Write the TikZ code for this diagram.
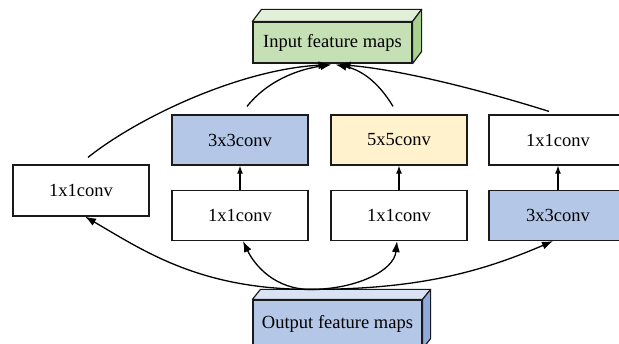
\documentclass[tikz,border=0pt]{standalone}
\usepackage{fontspec}
\newfontfamily\labelfont{LiberationSerif}[Extension=.ttf, UprightFont=*-Regular]
\usetikzlibrary{arrows.meta,calc}

\definecolor{convblue}{HTML}{B4C7E7}
\definecolor{convyellow}{HTML}{FFF2CC}
\definecolor{ingreen}{HTML}{C5E0B4}
\definecolor{ingreentop}{HTML}{E2F0D9}
\definecolor{ingreenside}{HTML}{A9D18E}
\definecolor{outblue}{HTML}{B4C7E7}
\definecolor{outbluetop}{HTML}{DAE3F3}
\definecolor{outblueside}{HTML}{8FAADC}
\definecolor{edge}{HTML}{1A1A1A}

\begin{document}
\begin{tikzpicture}[x=1pt,y=-1pt,
  box/.style={draw=edge, line width=1.2pt, minimum width=136pt, minimum height=50pt,
    inner sep=0pt, font=\labelfont\fontsize{18.5}{20}\selectfont},
  cube/.style={draw=edge, line width=1.2pt, inner sep=0pt, font=\labelfont\fontsize{18.5}{20}\selectfont},
  cubeface/.style={draw=edge, line width=1.2pt, line join=round},
  wire/.style={draw=black, line width=1.3pt},
  link/.style={wire, -{Latex[length=11pt,width=8pt]}},
  shortlink/.style={wire, -{Latex[length=8pt,width=6pt]}}]
\useasboundingbox (0,0) rectangle (619,344);

% convolution boxes
\node[box, minimum height=51pt] (b1) at (81,190.5) {1x1conv};
\node[box, fill=convblue]   (t1) at (240,140) {3x3conv};
\node[box]                  (m1) at (240,215.5) {1x1conv};
\node[box, fill=convyellow] (t2) at (399,140) {5x5conv};
\node[box]                  (m2) at (399,215.5) {1x1conv};
\node[box, minimum width=138pt] (t3) at (558,140) {1x1conv};
\node[box, minimum width=138pt, fill=convblue] (r2) at (558,215.5) {3x3conv};

% input block (3-D)
\node[cube, fill=ingreen, minimum width=159pt, minimum height=41pt] (in) at (332.5,42.5) {Input feature maps};
\draw[cubeface, fill=ingreentop] (in.north west) -- ++(9,-12) -- ($(in.north east)+(9,-12)$) -- (in.north east) -- cycle;
\draw[cubeface, fill=ingreenside] (in.north east) -- ++(9,-12) -- ($(in.south east)+(9,-12)$) -- (in.south east) -- cycle;

% output block (3-D)
\node[cube, fill=outblue, minimum width=169pt, minimum height=48pt] (out) at (337.5,324) {Output feature maps};
\draw[cubeface, fill=outbluetop] (out.north west) -- ++(8,-10) -- ($(out.north east)+(8,-10)$) -- (out.north east) -- cycle;
\draw[cubeface, fill=outblueside] (out.north east) -- ++(8,-10) -- ($(out.south east)+(8,-10)$) -- (out.south east) -- cycle;

% connector end points
\coordinate (src) at ($(out.north)+(-27,-10)$);
\coordinate (b1up) at ($(b1.north)+(7,-7)$);
\coordinate (t1up) at ($(t1.north)+(7,-8)$);
\coordinate (t2up) at ($(t2.north)+(-6,-8)$);
\coordinate (t3up) at ($(t3.north)+(-9,-3)$);
\coordinate (inA) at ($(in.south)+(-3,1)$);
\coordinate (inB) at ($(in.south)+(-1,1)$);
\coordinate (inC) at ($(in.south)+(3,1)$);
\coordinate (inD) at ($(in.south)+(7,1)$);
\coordinate (b1dn) at ($(b1.south)+(4,0)$);
\coordinate (m1dn) at ($(m1.south)+(3,0)$);
\coordinate (m2dn) at ($(m2.south)+(-2,0)$);
\coordinate (r2dn) at ($(r2.south)+(-5,0)$);

% branches into the input block
\draw[link] (b1up) .. controls +(50,-40) and +(-90,5) .. (inA);
\draw[link] (t1up) .. controls +(20,-25) and +(-35,5) .. (inB);
\draw[link] (t2up) .. controls +(-15,-25) and +(25,5) .. (inC);
\draw[link] (t3up) .. controls +(-70,-22) and +(60,5) .. (inD);

% short links inside each branch
\draw[shortlink] (m1.north) -- (t1.south);
\draw[shortlink] (m2.north) -- (t2.south);
\draw[shortlink] (r2.north) -- (t3.south);

% branches from the output block
\draw[link] (src) .. controls +(-110,0) and +(60,35) .. (b1dn);
\draw[link] (src) .. controls +(-35,0) and +(12,25) .. (m1dn);
\draw[link] (src) .. controls +(45,0) and +(-3,30) .. (m2dn);
\draw[link] (src) .. controls +(110,0) and +(-70,30) .. (r2dn);
\end{tikzpicture}
\end{document}
